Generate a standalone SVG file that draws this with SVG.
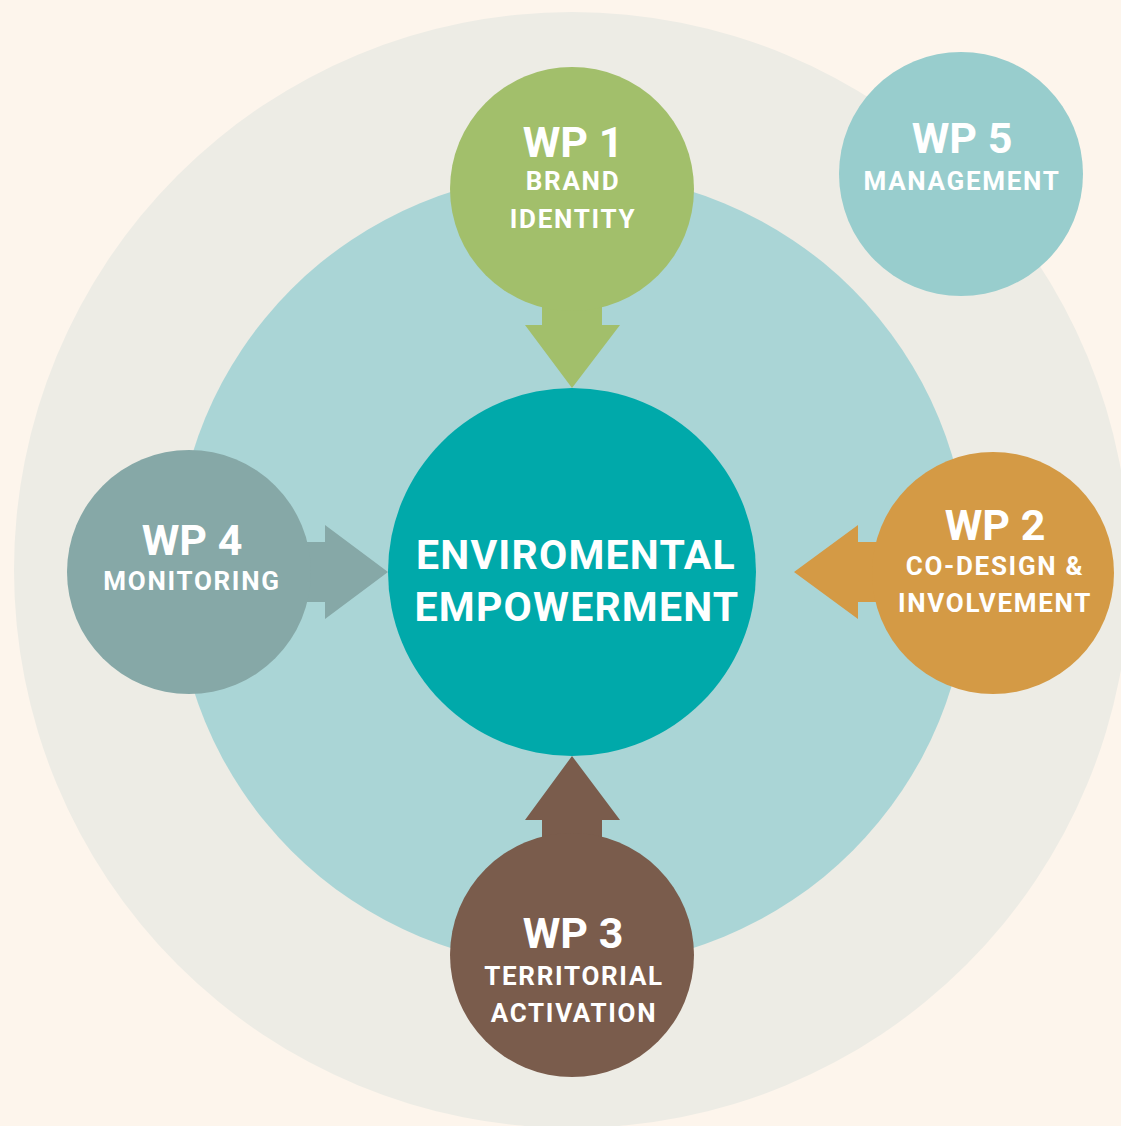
<svg xmlns="http://www.w3.org/2000/svg" width="1121" height="1126" viewBox="0 0 1121 1126">
<style>
.t{font-family:Roboto,"Liberation Sans",sans-serif;font-weight:700;fill:#ffffff;text-anchor:middle}
.h{font-size:43px;letter-spacing:0px}
.s{font-size:26px;letter-spacing:1.7px}
.c{font-size:41px;letter-spacing:1.2px}
</style>
<rect x="0" y="0" width="1121" height="1126" fill="#fdf5ec"/>
<circle cx="572" cy="570" r="558" fill="#edece5"/>
<circle cx="572" cy="570" r="397" fill="#aad5d6"/>
<g id="connectors">
<polygon fill="#a2bf6b" points="542,280 602,280 602,325 620,325 572,388 525,325 542,325"/>
<polygon fill="#d49a45" points="900,542 900,602 858,602 858,619 794,572 858,525 858,542"/>
<polygon fill="#86a8a7" points="280,542 280,602 325,602 325,619 388,572 325,525 325,542"/>
<polygon fill="#7a5c4c" points="542,860 602,860 602,820 620,820 572,756 525,820 542,820"/>
</g>
<g id="center">
<circle cx="572" cy="572" r="184" fill="#00a9aa"/>
<text class="t c" x="576" y="569">ENVIROMENTAL</text>
<text class="t c" x="577" y="621">EMPOWERMENT</text>
</g>
<g id="wp1">
<circle cx="572" cy="189" r="122" fill="#a2bf6b"/>
<text class="t h" x="573" y="157">WP 1</text>
<text class="t s" x="573" y="190">BRAND</text>
<text class="t s" x="573" y="228">IDENTITY</text>
</g>
<g id="wp2">
<circle cx="993" cy="573" r="121" fill="#d49a45"/>
<text class="t h" x="995" y="540">WP 2</text>
<text class="t s" x="995" y="575">CO-DESIGN &amp;</text>
<text class="t s" x="995" y="612">INVOLVEMENT</text>
</g>
<g id="wp3">
<circle cx="572" cy="955" r="122" fill="#7a5c4c"/>
<text class="t h" x="573" y="948">WP 3</text>
<text class="t s" x="574" y="985">TERRITORIAL</text>
<text class="t s" x="574" y="1022">ACTIVATION</text>
</g>
<g id="wp4">
<circle cx="189" cy="572" r="122" fill="#86a8a7"/>
<text class="t h" x="192" y="555">WP 4</text>
<text class="t s" x="192" y="590">MONITORING</text>
</g>
<g id="wp5">
<circle cx="961" cy="174" r="122" fill="#98cdcd"/>
<text class="t h" x="962" y="153">WP 5</text>
<text class="t s" x="962" y="190">MANAGEMENT</text>
</g>
</svg>
